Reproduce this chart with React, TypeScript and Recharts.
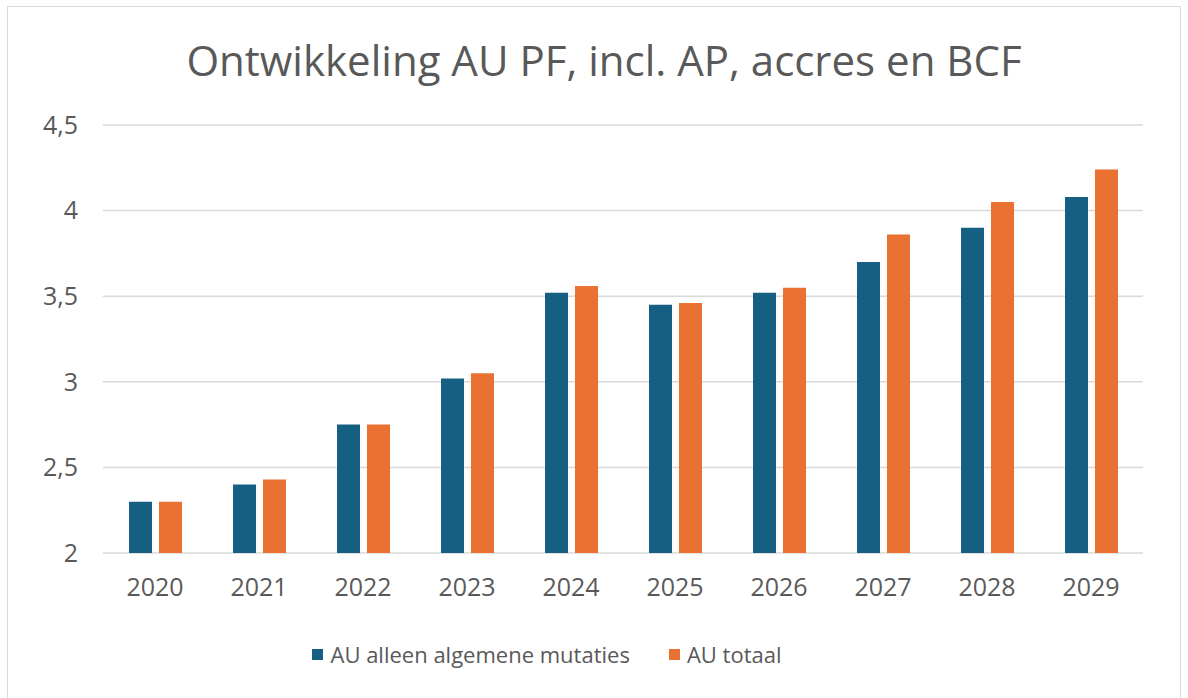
import React from 'react';
import { BarChart, Bar, XAxis, YAxis, CartesianGrid, Legend } from 'recharts';

const years = ['2020', '2021', '2022', '2023', '2024', '2025', '2026', '2027', '2028', '2029'];
const algemeneMutaties = [2.3, 2.4, 2.75, 3.02, 3.52, 3.45, 3.52, 3.7, 3.9, 4.08];
const totaal = [2.3, 2.43, 2.75, 3.05, 3.56, 3.46, 3.55, 3.86, 4.05, 4.24];
const yTicks = [2, 2.5, 3, 3.5, 4, 4.5];
const seriesNames = ['AU alleen algemene mutaties', 'AU totaal'];

const data = years.map((y, i) => ({ year: y, a: algemeneMutaties[i], b: totaal[i] }));

const FONT = '"Open Sans", sans-serif';
const GRAY = '#595959';
const BLUE = '#156082';
const ORANGE = '#E97132';

const renderLegend = (props: any) => {
  const { payload } = props;
  return (
    <div style={{ display: 'flex', justifyContent: 'center', fontFamily: FONT, fontSize: 22, color: GRAY, paddingRight: 57 }}>
      {payload.map((p: any, i: number) => (
        <div key={i} style={{ display: 'flex', alignItems: 'center', marginRight: i === 0 ? 39 : 0 }}>
          <div style={{ width: 11, height: 11, background: p.color, marginRight: 7 }} />
          <span>{p.value}</span>
        </div>
      ))}
    </div>
  );
};

export default function App() {
  return (
    <div style={{ position: 'absolute', left: 7, top: 6, width: 1172, height: 700, border: '1px solid #d9d9d9', background: '#fff' }}>
      <div style={{ position: 'absolute', left: 10, width: 1172, top: 27, textAlign: 'center', fontFamily: FONT, fontSize: 42, color: GRAY, lineHeight: '52px' }}>
        Ontwikkeling AU PF, incl. AP, accres en BCF
      </div>
      <BarChart
        width={1170}
        height={690}
        data={data}
        margin={{ top: 118, right: 35, bottom: 0, left: 0 }}
        barCategoryGap="25%"
        barGap={7}
      >
        <CartesianGrid vertical={false} stroke="#d9d9d9" strokeWidth={1.5} />
        <XAxis
          dataKey="year"
          axisLine={false}
          tickLine={false}
          tickMargin={19}
          tick={{ fill: GRAY, fontSize: 25, fontFamily: FONT }}
          height={114}
        />
        <YAxis
          domain={[2, 4.5]}
          ticks={yTicks}
          axisLine={false}
          tickLine={false}
          tickSize={0}
          tickMargin={25}
          width={95}
          tickFormatter={(v: number) => String(v).replace('.', ',')}
          tick={{ fill: GRAY, fontSize: 25, fontFamily: FONT }}
        />
        <Legend verticalAlign="bottom" content={renderLegend} wrapperStyle={{ bottom: 28 }} />
        <Bar dataKey="a" name={seriesNames[0]} fill={BLUE} isAnimationActive={false} />
        <Bar dataKey="b" name={seriesNames[1]} fill={ORANGE} isAnimationActive={false} />
      </BarChart>
    </div>
  );
}
